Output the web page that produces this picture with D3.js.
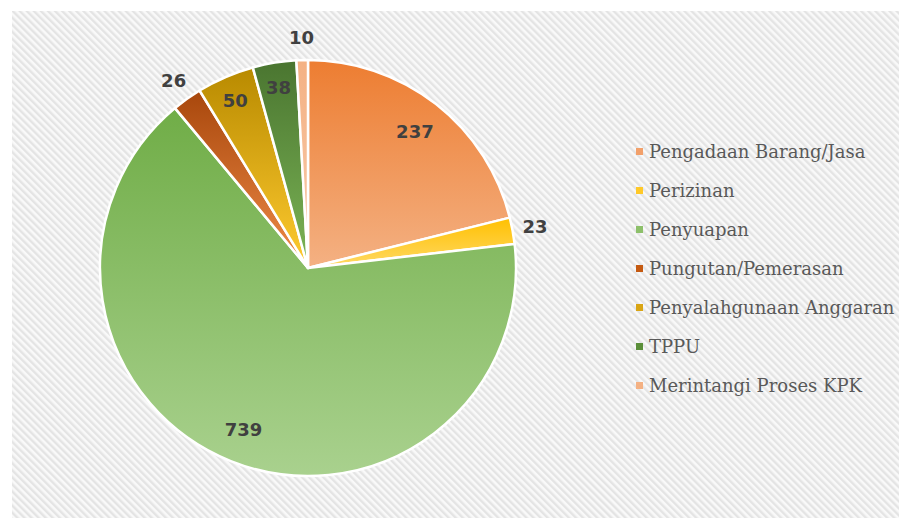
<!DOCTYPE html>
<html>
<head>
<meta charset="utf-8">
<script src="https://cdn.jsdelivr.net/npm/d3@7/dist/d3.min.js"></script>
<style>
  html, body { margin: 0; padding: 0; background: #ffffff; }
  svg { display: block; }
</style>
</head>
<body>
<svg id="chart" width="899" height="518"></svg>
<script>
// ---- data ----
const categories = ["Pengadaan Barang/Jasa", "Perizinan", "Penyuapan", "Pungutan/Pemerasan", "Penyalahgunaan Anggaran", "TPPU", "Merintangi Proses KPK"];
const values = [237, 23, 739, 26, 50, 38, 10];

// ---- styling ----
const topColors    = ["#ED7D31", "#FFC000", "#70AD47", "#A8470C", "#B88A00", "#4A7530", "#F4B183"];
const bottomColors = ["#F4B183", "#FFD966", "#A9D18E", "#F08C48", "#FFCB30", "#7CB556", "#F8CBAD"];
const legendColors = ["#F2A06A", "#FFC928", "#8DC06A", "#C55A11", "#D9A514", "#5B8F3A", "#F4B183"];

const svg = d3.select("#chart");
const W = 899, H = 518;
const defs = svg.append("defs");

// hatched background
const pat = defs.append("pattern")
  .attr("id", "hatch")
  .attr("patternUnits", "userSpaceOnUse")
  .attr("width", 5).attr("height", 5)
  .attr("patternTransform", "rotate(-45)");
pat.append("rect").attr("width", 5).attr("height", 5).attr("fill", "#f9f9f9");
pat.append("rect").attr("width", 2.4).attr("height", 5).attr("fill", "#e4e4e4");

svg.append("rect").attr("x", 12).attr("y", 11).attr("width", W - 12).attr("height", H - 11)
  .attr("fill", "url(#hatch)");

// gradients
categories.forEach((c, i) => {
  const g = defs.append("linearGradient").attr("id", "grad" + i)
    .attr("x1", 0).attr("y1", 0).attr("x2", 0).attr("y2", 1);
  g.append("stop").attr("offset", "0%").attr("stop-color", topColors[i]);
  g.append("stop").attr("offset", "100%").attr("stop-color", bottomColors[i]);
});

const cx = 308, cy = 268, R = 208;
const data = categories.map((c, i) => ({ name: c, value: values[i], i }));
const pie = d3.pie().sort(null).value(d => d.value);
const arcs = pie(data);
const arc = d3.arc().innerRadius(0).outerRadius(R);

const g = svg.append("g").attr("transform", `translate(${cx},${cy})`);
g.selectAll("path.slice").data(arcs).enter().append("path")
  .attr("class", "slice")
  .attr("d", arc)
  .attr("fill", d => `url(#grad${d.data.i})`)
  .attr("stroke", "#ffffff")
  .attr("stroke-width", 2.5)
  .attr("stroke-linejoin", "round");

// labels: inside for wide slices, outside for narrow
g.selectAll("text.lbl").data(arcs).enter().append("text")
  .attr("class", "lbl")
  .attr("transform", d => {
    const a = (d.startAngle + d.endAngle) / 2;
    const span = (d.endAngle - d.startAngle) * 180 / Math.PI;
    const r = span < 10 ? R * 1.11 : (span < 20 ? R * 0.88 : R * 0.835);
    return `translate(${Math.sin(a) * r},${-Math.cos(a) * r})`;
  })
  .attr("text-anchor", "middle")
  .attr("dy", "0.36em")
  .attr("font-family", "DejaVu Sans, sans-serif")
  .attr("font-weight", "bold")
  .attr("font-size", 18)
  .attr("fill", "#404040")
  .text(d => d.data.value);

// legend
const leg = svg.append("g").attr("transform", "translate(636,152)");
const items = leg.selectAll("g.item").data(data).enter().append("g")
  .attr("class", "item")
  .attr("transform", (d, i) => `translate(0,${i * 39})`);
items.append("rect").attr("x", 0).attr("y", -4).attr("width", 7).attr("height", 7)
  .attr("fill", d => legendColors[d.i]);
items.append("text").attr("x", 13).attr("y", 0).attr("dy", "0.35em")
  .attr("font-family", "DejaVu Serif, serif")
  .attr("font-size", 18)
  .attr("fill", "#595959")
  .text(d => d.name);
</script>
</body>
</html>
